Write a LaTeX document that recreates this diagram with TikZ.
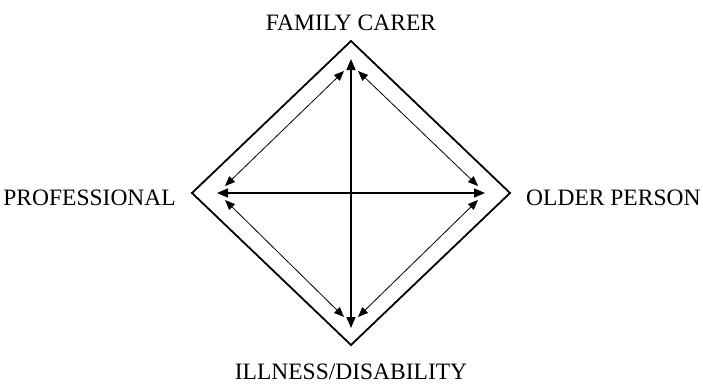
\documentclass[tikz,border=0pt]{standalone}
\usepackage{fontspec}
\setmainfont{Liberation Serif}
\usetikzlibrary{arrows.meta}
\tikzset{
  frame/.style={draw, line width=1.8pt, line join=miter},
  axis/.style={{Triangle[length=11pt,width=9pt]}-{Triangle[length=11pt,width=9pt]}, line width=1.4pt},
  link/.style={{Triangle[length=10pt,width=8pt]}-{Triangle[length=10pt,width=8pt]}, line width=0.8pt},
  role/.style={font=\fontsize{23.5}{28}\selectfont, inner sep=0pt},
}

\begin{document}
\begin{tikzpicture}[x=1pt,y=-1pt]
\useasboundingbox (0,0) rectangle (703,383);
% labels
\node[role, anchor=base] (carer) at (351,30) {FAMILY CARER};
\node[role, anchor=base east] (prof) at (176,205) {PROFESSIONAL};
\node[role, anchor=base west] (older) at (526,205) {OLDER PERSON};
\node[role, anchor=base] (ill) at (351,379) {ILLNESS/DISABILITY};
% diamond corners
\coordinate (dT) at (351,41);
\coordinate (dR) at (510,193);
\coordinate (dB) at (351,345);
\coordinate (dL) at (192,193);
\draw[frame] (dT) -- (dR) -- (dB) -- (dL) -- cycle;
% arrow ends
\coordinate (aT) at (351,59);
\coordinate (aB) at (351,328);
\coordinate (aL) at (217,193);
\coordinate (aR) at (485,193);
\coordinate (tl1) at (344,71);  \coordinate (tl2) at (225,186);
\coordinate (tr1) at (358,71);  \coordinate (tr2) at (478,186);
\coordinate (bl1) at (225,200); \coordinate (bl2) at (344,317);
\coordinate (br1) at (478,200); \coordinate (br2) at (358,317);
\draw[axis] (aT) -- (aB);
\draw[axis] (aL) -- (aR);
\draw[link] (tl1) -- (tl2);
\draw[link] (tr1) -- (tr2);
\draw[link] (bl1) -- (bl2);
\draw[link] (br1) -- (br2);
\end{tikzpicture}
\end{document}
